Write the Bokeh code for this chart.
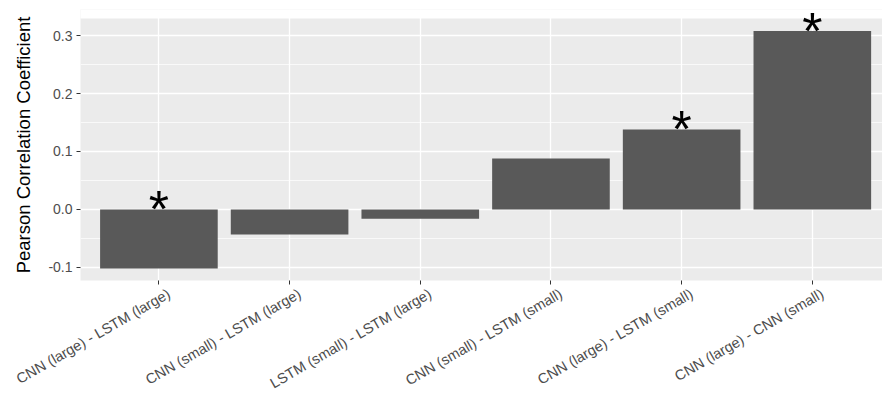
from bokeh.plotting import figure
from bokeh.models import (ColumnDataSource, Range1d, FixedTicker, SingleIntervalTicker,
                          PrintfTickFormatter, LinearAxis)
from bokeh.core.properties import value
from bokeh.embed import file_html
from bokeh.resources import INLINE
import math

categories = ["CNN (large) - LSTM (large)", "CNN (small) - LSTM (large)",
              "LSTM (small) - LSTM (large)", "CNN (small) - LSTM (small)",
              "CNN (large) - LSTM (small)", "CNN (large) - CNN (small)"]
pearson = [-0.102, -0.043, -0.016, 0.088, 0.138, 0.308]
significant = [True, False, False, False, True, True]

Y_START, Y_END = -0.1225, 0.3295      # visible panel range
Y_ROOM = 0.3449                        # extra room above the panel so the top star is not clipped
X_START, X_END = -0.6, 5.537
LABEL_SHIFT = 0.0765  # shift of rotated labels (category units), like ggplot hjust

xs = list(range(len(categories)))
src = ColumnDataSource(dict(x=xs, top=pearson, bottom=[0] * len(pearson)))
star_x = [x for x, s in zip(xs, significant) if s]
star_y = [max(v, 0) for v, s in zip(pearson, significant) if s]
star_src = ColumnDataSource(dict(x=star_x, y=star_y, t=["*"] * len(star_x)))

FONT = "Liberation Sans"
p = figure(width=882, height=401, output_backend="svg", toolbar_location=None,
           x_range=Range1d(X_START, X_END), y_range=Range1d(Y_START, Y_ROOM),
           min_border_left=80, min_border_top=9, min_border_right=0, min_border_bottom=119)
p.extra_x_ranges = {"lbl": Range1d(X_START - LABEL_SHIFT, X_END - LABEL_SHIFT)}
p.background_fill_color = "#EBEBEB"
p.border_fill_color = "white"
p.outline_line_color = None

# white strip above the panel (the panel ends at Y_END), drawn over the grid
p.quad(left=[X_START - 1], right=[X_END + 1], bottom=[Y_END], top=[Y_ROOM + 1],
       fill_color="white", line_color=None)

p.vbar(x="x", top="top", bottom="bottom", width=0.9, source=src,
       fill_color="#595959", line_color=None)
p.text(x="x", y="y", text="t", source=star_src, text_font=value(FONT),
       text_font_size="52px", text_align="center", text_baseline="middle",
       text_color="black", y_offset=0)

# primary x axis: tick marks only
p.xaxis.ticker = FixedTicker(ticks=xs)
p.xaxis.major_label_overrides = {i: "" for i in xs}
p.xaxis.major_label_text_font_size = "0px"
p.xaxis.major_label_standoff = 0

# label axis
lab_axis = LinearAxis(x_range_name="lbl", ticker=FixedTicker(ticks=xs),
                      major_label_overrides={i: c for i, c in enumerate(categories)})
lab_axis.major_label_orientation = math.pi / 6
lab_axis.axis_line_color = None
lab_axis.major_tick_line_color = None
lab_axis.major_tick_out = 0
lab_axis.major_tick_in = 0
lab_axis.minor_tick_line_color = None
lab_axis.major_label_standoff = 8
lab_axis.major_label_text_font = FONT
lab_axis.major_label_text_font_size = "14.5px"
lab_axis.major_label_text_color = "#4D4D4D"
p.add_layout(lab_axis, "below")

p.yaxis.ticker = SingleIntervalTicker(interval=0.1, num_minor_ticks=2)
p.yaxis.formatter = PrintfTickFormatter(format="%.1f")

for ax in (p.xaxis[0], p.yaxis[0]):
    ax.axis_line_color = None
    ax.major_tick_line_color = "#333333"
    ax.major_tick_out = 4
    ax.major_tick_in = 0
    ax.minor_tick_line_color = None
p.yaxis.major_label_text_font = FONT
p.yaxis.major_label_text_font_size = "14px"
p.yaxis.major_label_text_color = "#4D4D4D"
p.yaxis.major_label_standoff = 4

p.yaxis.axis_label = "Pearson Correlation Coefficient"
p.yaxis.axis_label_text_font = FONT
p.yaxis.axis_label_text_font_size = "18.5px"
p.yaxis.axis_label_text_font_style = "normal"
p.yaxis.axis_label_text_color = "black"
p.yaxis.axis_label_standoff = 11

p.xgrid.grid_line_color = "white"
p.xgrid.grid_line_width = 1.3
p.ygrid.grid_line_color = "white"
p.ygrid.grid_line_width = 1.3
p.ygrid.minor_grid_line_color = "white"
p.ygrid.minor_grid_line_width = 0.7

open("out.html", "w").write(file_html(p, INLINE))
